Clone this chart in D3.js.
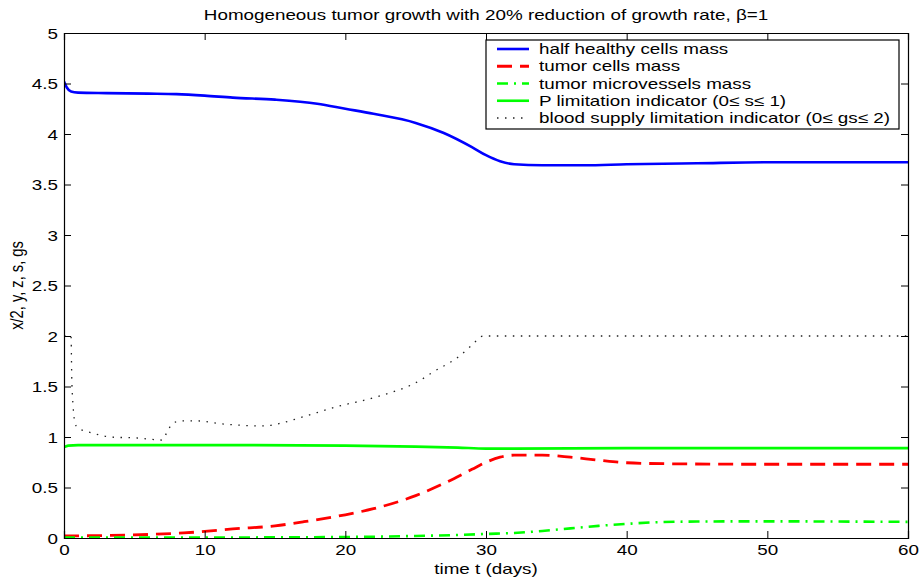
<!DOCTYPE html>
<html>
<head>
<meta charset="utf-8">
<script src="https://cdn.jsdelivr.net/npm/d3@7"></script>
<style>
  html, body { margin: 0; padding: 0; background: #fff; }
  svg { display: block; }
  text { font-family: "Liberation Sans", Arial, Helvetica, sans-serif; fill: #000; }
</style>
</head>
<body>
<svg id="chart" width="920" height="580"></svg>
<script>
// Time axis ticks and value axis ticks
const xTicks = [0, 10, 20, 30, 40, 50, 60];
const yTicks = [0, 0.5, 1, 1.5, 2, 2.5, 3, 3.5, 4, 4.5, 5];
const yTickLabels = ["0", "0.5", "1", "1.5", "2", "2.5", "3", "3.5", "4", "4.5", "5"];

// half healthy cells mass (x/2)
const healthyT = [0, 0.2, 0.5, 1, 3, 6, 8, 10, 12, 15, 18, 20, 22, 25, 27, 29, 30, 31, 32, 34, 37, 40, 45, 50, 55, 60];
const healthyV = [4.52, 4.46, 4.42, 4.41, 4.405, 4.40, 4.395, 4.38, 4.36, 4.34, 4.30, 4.25, 4.20, 4.11, 4.01, 3.87, 3.79, 3.73, 3.70, 3.69, 3.69, 3.70, 3.71, 3.72, 3.72, 3.72];

// tumor cells mass (y)
const tumorT = [0, 3, 6, 8.5, 10, 12, 15, 17, 20, 22, 24, 25, 27, 29, 30, 31, 32, 34, 36, 38, 40, 43, 50, 60];
const tumorV = [0.02, 0.025, 0.035, 0.05, 0.065, 0.09, 0.12, 0.16, 0.23, 0.29, 0.37, 0.42, 0.54, 0.68, 0.75, 0.80, 0.82, 0.82, 0.80, 0.77, 0.745, 0.735, 0.73, 0.73];

// tumor microvessels mass (z)
const vesselT = [0, 10, 20, 25, 28, 30, 32, 34, 36, 38, 40, 42, 45, 50, 55, 60];
const vesselV = [0.005, 0.005, 0.01, 0.02, 0.03, 0.04, 0.05, 0.07, 0.095, 0.12, 0.14, 0.155, 0.163, 0.165, 0.163, 0.16];

// P limitation indicator (s)
const pLimT = [0, 0.3, 1, 10, 20, 25, 28, 30, 32, 40, 60];
const pLimV = [0.90, 0.915, 0.92, 0.92, 0.915, 0.905, 0.895, 0.885, 0.885, 0.89, 0.89];

// blood supply limitation indicator (gs)
const bloodT = [0, 0.5, 0.55, 0.65, 0.8, 1, 2, 3.3, 5.2, 7, 7.3, 7.7, 8.3, 9.4, 11.2, 14.2, 15.5, 17, 19.4, 22.3, 25.3, 26.2, 28.1, 29, 29.8, 60];
const bloodV = [2.0, 2.0, 1.6, 1.3, 1.13, 1.09, 1.04, 1.0, 0.99, 0.97, 1.04, 1.13, 1.16, 1.16, 1.13, 1.11, 1.14, 1.2, 1.30, 1.40, 1.56, 1.64, 1.80, 1.91, 2.0, 2.0];

const legendLabels = [
  "half healthy cells mass",
  "tumor cells mass",
  "tumor microvessels mass",
  "P limitation indicator (0\u2264 s\u2264 1)",
  "blood supply limitation indicator (0\u2264 gs\u2264 2)"
];

const titleText = "Homogeneous tumor growth with 20% reduction of growth rate, \u03B2=1";
const xLabelText = "time t (days)";
const yLabelText = "x/2, y, z, s, gs";

// ---- layout ----
const W = 920, H = 580;
const margin = { left: 64, right: 12, top: 33, bottom: 42 };
const SX = 1.28;           // horizontal text stretch
const FS = 14.7;           // font size

const svg = d3.select("#chart");
const x = d3.scaleLinear().domain([0, 60]).range([margin.left, W - margin.right]);
const y = d3.scaleLinear().domain([0, 5]).range([H - margin.bottom, margin.top]);

const styles = [
  { t: healthyT, v: healthyV, color: "#0000ff", width: 2.6, dash: null },
  { t: tumorT, v: tumorV, color: "#ff0000", width: 2.8, dash: "15,8" },
  { t: vesselT, v: vesselV, color: "#00ff00", width: 2.6, dash: "11,6,2,6" },
  { t: pLimT, v: pLimV, color: "#00ff00", width: 2.6, dash: null },
  { t: bloodT, v: bloodV, color: "#222", width: 1.3, dash: "1.5,6.5" }
];

function stretchedText(g, tx, ty, str, anchor, size) {
  return g.append("text")
    .attr("transform", `translate(${tx},${ty}) scale(${SX},1)`)
    .attr("text-anchor", anchor)
    .attr("font-size", size || FS)
    .text(str);
}

// plot background
svg.append("rect")
  .attr("x", x(0)).attr("y", y(5))
  .attr("width", x(60) - x(0)).attr("height", y(0) - y(5))
  .attr("fill", "#fff").attr("stroke", "none");

// series
svg.append("clipPath").attr("id", "plotClip")
  .append("rect").attr("x", x(0)).attr("y", y(5))
  .attr("width", x(60) - x(0)).attr("height", y(0) - y(5) + 2);

const lineGen = d3.line().curve(d3.curveMonotoneX);
const seriesG = svg.append("g").attr("clip-path", "url(#plotClip)");
styles.forEach(s => {
  const pts = s.t.map((t, i) => [x(t), y(s.v[i])]);
  seriesG.append("path")
    .attr("d", lineGen(pts))
    .attr("fill", "none")
    .attr("stroke", s.color)
    .attr("stroke-width", s.width)
    .attr("stroke-dasharray", s.dash)
    .attr("stroke-linejoin", "round");
});

// axes (ticks pointing inward on all sides)
const tickLen = 7;
const axB = svg.append("g").attr("transform", `translate(0,${y(0)})`)
  .call(d3.axisBottom(x).tickValues(xTicks).tickSize(-tickLen).tickPadding(0).tickFormat(d3.format("d")));
const axT = svg.append("g").attr("transform", `translate(0,${y(5)})`)
  .call(d3.axisTop(x).tickValues(xTicks).tickSize(-tickLen).tickFormat(""));
const axL = svg.append("g").attr("transform", `translate(${x(0)},0)`)
  .call(d3.axisLeft(y).tickValues(yTicks).tickSize(-tickLen).tickFormat((d, i) => yTickLabels[i]));
const axR = svg.append("g").attr("transform", `translate(${x(60)},0)`)
  .call(d3.axisRight(y).tickValues(yTicks).tickSize(-tickLen).tickFormat(""));

[axB, axT, axL, axR].forEach(a => {
  a.select(".domain").attr("stroke", "#000").attr("stroke-width", 1.2);
  a.selectAll(".tick line").attr("stroke", "#000").attr("stroke-width", 1);
});

axB.selectAll(".tick text")
  .attr("font-size", FS)
  .attr("font-family", "Liberation Sans, Arial, sans-serif")
  .attr("y", 0).attr("dy", null)
  .attr("transform", `translate(0,17) scale(${SX},1)`);

axL.selectAll(".tick text")
  .attr("font-size", FS)
  .attr("font-family", "Liberation Sans, Arial, sans-serif")
  .attr("x", 0).attr("dy", "0.35em")
  .attr("transform", `translate(-6,0) scale(${SX},1)`);

// title and axis labels
stretchedText(svg, (x(0) + x(60)) / 2, 20, titleText, "middle");
stretchedText(svg, (x(0) + x(60)) / 2, 574, xLabelText, "middle");
svg.append("text")
  .attr("transform", `translate(23,${(y(0) + y(5)) / 2}) rotate(-90) scale(1,${SX})`)
  .attr("text-anchor", "middle")
  .attr("font-size", FS)
  .text(yLabelText);

// legend
const lg = svg.append("g");
const lgX0 = 486, lgY0 = 40, lgW = 413, lgH = 89;
lg.append("rect").attr("x", lgX0).attr("y", lgY0).attr("width", lgW).attr("height", lgH)
  .attr("fill", "#fff").attr("stroke", "#000").attr("stroke-width", 1.2);
const rowY = d3.scaleLinear().domain([0, 4]).range([lgY0 + 9, lgY0 + 78]);
legendLabels.forEach((lab, i) => {
  const s = styles[i];
  const ry = rowY(i);
  lg.append("line")
    .attr("x1", lgX0 + 11).attr("x2", lgX0 + 43)
    .attr("y1", ry).attr("y2", ry)
    .attr("stroke", s.color)
    .attr("stroke-width", s.width)
    .attr("stroke-dasharray", s.dash);
  stretchedText(lg, lgX0 + 53, ry + 5, lab, "start");
});
</script>
</body>
</html>
